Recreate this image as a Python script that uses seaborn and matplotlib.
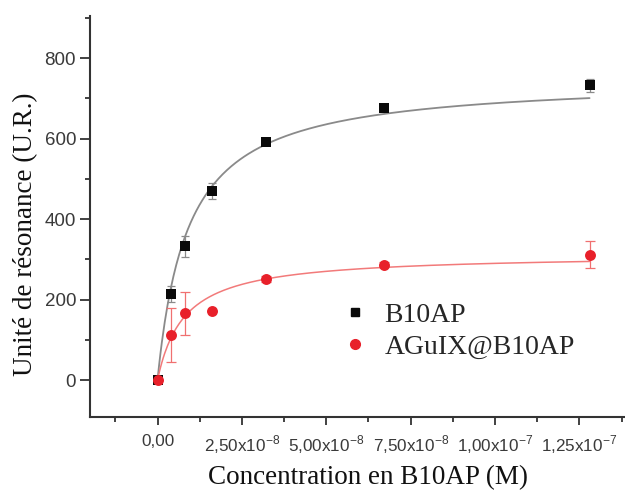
import numpy as np
import pandas as pd
import matplotlib
matplotlib.use("Agg")
import matplotlib.pyplot as plt
from matplotlib.lines import Line2D
from matplotlib.ticker import FixedLocator, MultipleLocator
import seaborn as sns

sns.set_style("ticks")
plt.rcParams['font.family'] = ['Liberation Sans', 'DejaVu Sans']
plt.rcParams['mathtext.fontset'] = 'custom'
plt.rcParams['mathtext.rm'] = 'Liberation Sans'

# concentrations (M)
conc = [0.0, 4.0e-9, 8.1e-9, 1.6e-8, 3.22e-8, 6.7e-8, 1.28e-7]
# response units
b10ap = [0, 213, 332, 470, 591, 677, 732]
b10ap_err = [0, 20, 25, 20, 8, 8, 15]
aguix = [0, 112, 166, 172, 251, 287, 312]
aguix_err = [0, 67, 54, 0, 8, 6, 34]

# one-site binding fit parameters as drawn (Kd in M, Bmax in U.R.)
b10ap_fit = (9.0e-9, 750)
aguix_fit = (7.9e-9, 313)

xticks = [0.0, 2.5e-8, 5.0e-8, 7.5e-8, 1.0e-7, 1.25e-7]
xticklabels = ["0,00", r"2,50x10$^{\mathregular{-8}}$", r"5,00x10$^{\mathregular{-8}}$",
               r"7,50x10$^{\mathregular{-8}}$", r"1,00x10$^{\mathregular{-7}}$",
               r"1,25x10$^{\mathregular{-7}}$"]
yticks = [0, 200, 400, 600, 800]

BLACK = "#0a0a0a"
RED = "#e8202a"
SERIF = ['Liberation Serif', 'DejaVu Serif']


def fit_curve(x, params, n=300):
    kd, bmax = params
    xs = np.linspace(0, max(x), n)
    return pd.DataFrame({'x': xs, 'y': bmax * xs / (kd + xs)})


fig = plt.figure(figsize=(6.25, 4.96), dpi=100)
ax = fig.add_axes([0.144, 0.159, 0.856, 0.809])

sns.lineplot(data=fit_curve(conc, b10ap_fit), x='x', y='y', ax=ax, color="#8a8a8a", lw=1.3)
sns.lineplot(data=fit_curve(conc, aguix_fit), x='x', y='y', ax=ax, color="#f27a7a", lw=1.1)

ax.errorbar(conc, b10ap, yerr=b10ap_err, fmt='none', ecolor="#8a8a8a", elinewidth=0.9,
            capsize=3, capthick=0.9)
ax.errorbar(conc, aguix, yerr=aguix_err, fmt='none', ecolor="#f07070", elinewidth=0.9,
            capsize=3.5, capthick=0.9)

sns.scatterplot(x=conc, y=b10ap, ax=ax, marker='s', color=BLACK, s=48, linewidth=0, zorder=5)
sns.scatterplot(x=conc, y=aguix, ax=ax, marker='o', color=RED, s=62, linewidth=0, zorder=6)

ax.set_xlim(-2.0e-8, 1.385e-7)
ax.set_ylim(-92, 905)
sns.despine(ax=ax)
for side in ['left', 'bottom']:
    ax.spines[side].set_linewidth(1.5)
    ax.spines[side].set_color("#333333")

ax.xaxis.set_major_locator(FixedLocator(xticks))
ax.set_xticklabels(xticklabels)
ax.xaxis.set_minor_locator(MultipleLocator(1.25e-8))
ax.yaxis.set_major_locator(FixedLocator(yticks))
ax.yaxis.set_minor_locator(MultipleLocator(100))
ax.tick_params(which='major', length=6, width=1.3, color="#333333", labelcolor="#3a3a3a")
ax.tick_params(axis='y', which='major', length=7, pad=3, labelsize=13.5)
ax.tick_params(axis='x', which='major', pad=6, labelsize=12.3)
ax.tick_params(which='minor', length=3.5, width=1.3, color="#333333")

ax.set_xlabel("Concentration en B10AP (M)", family=SERIF, fontsize=19.5, color="#111111")
ax.set_ylabel("Unité de résonance (U.R.)", family=SERIF, fontsize=19.5, color="#111111")
ax.xaxis.set_label_coords(0.52, -0.12)
ax.yaxis.set_label_coords(-0.097, 0.455)

handles = [Line2D([], [], ls='none', marker='s', color=BLACK, markersize=6),
           Line2D([], [], ls='none', marker='o', color=RED, markersize=7)]
ax.legend(handles, ["B10AP", "AGuIX@B10AP"], loc='center left', bbox_to_anchor=(0.47, 0.214),
          frameon=False, prop={'family': SERIF, 'size': 20}, handlelength=1.0,
          handletextpad=0.55, labelspacing=0.25, borderaxespad=0, borderpad=0)

fig.savefig("out.png", dpi=100)
